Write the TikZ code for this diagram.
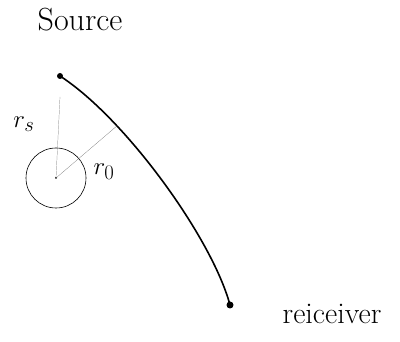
\documentclass[tikz,border=0pt]{standalone}
\usepackage{amsmath}
\usepackage{tikz}
\usetikzlibrary{arrows.meta}

\begin{document}
\begin{tikzpicture}[x=1pt,y=-1pt]
        \def\rad{30}

        \useasboundingbox (0,0) rectangle (400,342);

        %------------------
        % 点
        %------------------

        \coordinate (src) at (60,76);
        \coordinate (rcv) at (230,305);
        \coordinate (ctr) at (56,178);
        \coordinate (top) at (60,97);
        \coordinate (foot) at (118,125);

        %------------------
        % 経路
        %------------------

        \draw[line width=1.6pt, line cap=round]
          (src) .. controls (125,118) and (212,238) .. (rcv);
        \fill (src) circle (3);
        \fill (rcv) circle (3.5);

        % 円
        \draw[semithick] (ctr) circle (\rad);
        \fill (ctr) circle (1);

        % r_s, r_0
        \draw[black!60, very thin] (ctr) -- (top);
        \draw[black!60, very thin] (ctr) -- (foot);

        %------------------
        % ラベル
        %------------------

        \node (srclab) at (80,20) {\fontsize{32}{36}\selectfont Source};
        \node (rslab) at (24,124) {\fontsize{28}{32}\selectfont \(r_s\)};
        \node (r0lab) at (104,172) {\fontsize{28}{32}\selectfont \(r_0\)};
        \node (rcvlab) at (332,314) {\fontsize{30}{34}\selectfont reiceiver};
      \end{tikzpicture}
\end{document}
